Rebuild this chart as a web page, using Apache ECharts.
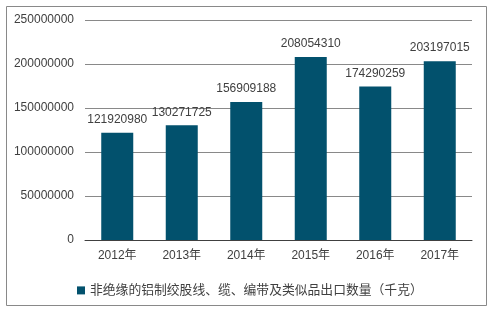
<!DOCTYPE html>
<html><head><meta charset="utf-8">
<script src="https://cdn.jsdelivr.net/npm/echarts@6/dist/echarts.min.js"></script>
<style>html,body{margin:0;padding:0;background:#fff}#c{width:492px;height:311px}</style>
</head><body><div id="c"></div>
<script>
const categories = ['2012年','2013年','2014年','2015年','2016年','2017年'];
const values = [121920980,130271725,156909188,208054310,174290259,203197015];
const seriesName = '非绝缘的铝制绞股线、缆、编带及类似品出口数量（千克）';
const chart = echarts.init(document.getElementById('c'), null, {renderer:'canvas'});
const font = '"Liberation Sans", Arial, "Noto Sans CJK SC", sans-serif';
chart.setOption({
  animation:false,
  textStyle:{fontFamily:font},
  graphic:[{type:'rect',shape:{x:6.5,y:6.5,width:480,height:299},style:{fill:'none',stroke:'#898989',lineWidth:1},silent:true}],
  grid:{left:85,right:20,top:20,bottom:71,containLabel:false},
  legend:{data:[seriesName],left:72,top:279,icon:'rect',itemWidth:8,itemHeight:8,itemGap:3,
    textStyle:{fontSize:12.8,color:'#404040',fontFamily:font}},
  xAxis:{type:'category',data:categories,
    axisLine:{lineStyle:{color:'#404040',width:1}},axisTick:{show:false},
    axisLabel:{fontSize:12,color:'#404040',margin:10,fontFamily:font}},
  yAxis:{type:'value',min:0,max:250000000,interval:50000000,
    axisLine:{show:false},axisTick:{show:false},
    splitLine:{lineStyle:{color:'#898989',width:1}},
    axisLabel:{fontSize:12,color:'#404040',margin:11,fontFamily:font,formatter:function(v){return String(v);}}},
  series:[{name:seriesName,type:'bar',data:values,barWidth:32,
    itemStyle:{color:'#02516D'},
    label:{show:true,position:'top',distance:7,fontSize:12,color:'#404040',fontFamily:font}}]
});
</script></body></html>
